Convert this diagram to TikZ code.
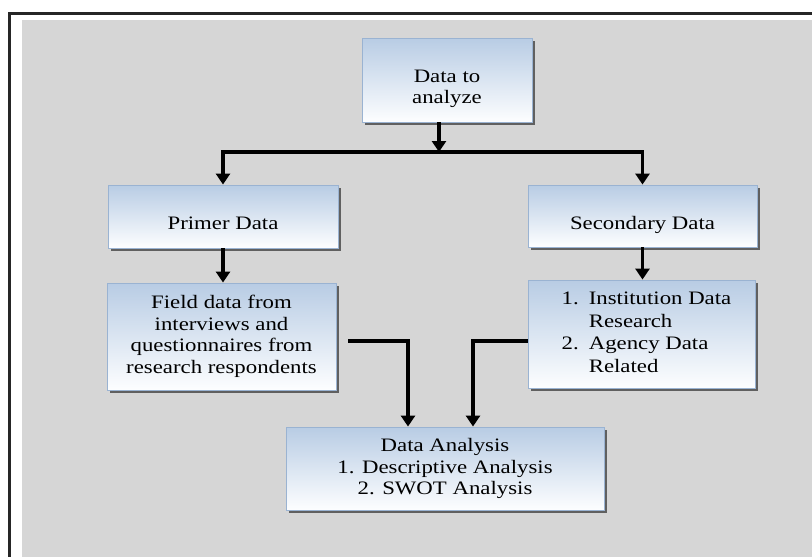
\documentclass[tikz,border=0pt]{standalone}
\usepackage{fontspec}
\setmainfont[FakeStretch=1.2]{Liberation Serif}
\usetikzlibrary{arrows.meta,shadows,calc}
\definecolor{bggrey}{HTML}{D6D6D6}
\definecolor{boxtop}{HTML}{FDFEFF}
\definecolor{boxbot}{HTML}{B8CCE4}
\definecolor{boxline}{HTML}{9AB3D2}
\tikzset{
  box/.style={draw=boxline, line width=0.9pt, top color=boxbot, bottom color=boxtop,
    drop shadow={shadow xshift=2.5pt, shadow yshift=-2.5pt, fill=black, opacity=0.55},
    inner sep=2pt, font=\fontsize{19}{21.5}\selectfont, text=black},
  arr/.style={line width=3.6pt, -{Triangle[width=14pt,length=11pt]}},
  plain/.style={line width=3.6pt}
}
\begin{document}
\begin{tikzpicture}[x=1pt,y=-1pt]
\useasboundingbox (0,0) rectangle (812,557);
\fill[white] (0,0) rectangle (812,557);
\fill[bggrey] (22,20) rectangle (812,557);
\draw[line width=3pt, black!85] (9.5,557) -- (9.5,13.5) -- (812,13.5);

\node[box, minimum width=170pt, minimum height=84pt, align=center] (d2a) at (447,80)
  {\rule{0pt}{30pt}Data to\\analyze};
\node[box, minimum width=230pt, minimum height=63pt, text height=26pt, text depth=0pt] (primer) at (223,216.5) {Primer Data};
\node[box, minimum width=229pt, minimum height=62pt, text height=26pt, text depth=0pt] (sec) at (642.5,216) {Secondary Data};
\node[box, minimum width=229pt, minimum height=107pt, align=center] (field) at (221.5,336.5)
  {Field data from\\interviews and\\questionnaires from\\research respondents};
\node[box, minimum width=227pt, minimum height=108pt] (list) at (641.5,334)
  {\hspace*{10pt}\begin{tabular}{@{}l@{\hspace{10pt}}l@{}}
    1. & Institution Data\\[1pt]
       & Research\\[1pt]
    2. & Agency Data\\[1pt]
       & Related
  \end{tabular}};
\node[box, minimum width=318pt, minimum height=83pt, align=center] (ana) at (445,468.5)
  {Data Analysis\\1. Descriptive Analysis\\2. SWOT Analysis};

\coordinate (j) at (439,152);
\coordinate (f1) at (348,341);
\draw[arr] (d2a.south -| j) -- (j);
\draw[arr] (j) -| (primer.north);
\draw[arr] (j) -| (sec.north);
\draw[arr] (primer.south) -- (primer.south |- field.north);
\draw[arr] (sec.south) -- (sec.south |- list.north);
\draw[arr] (f1) -| ([xshift=-37pt]ana.north);
\draw[arr] (list.west |- f1) -| ([xshift=28pt]ana.north);
\end{tikzpicture}
\end{document}
